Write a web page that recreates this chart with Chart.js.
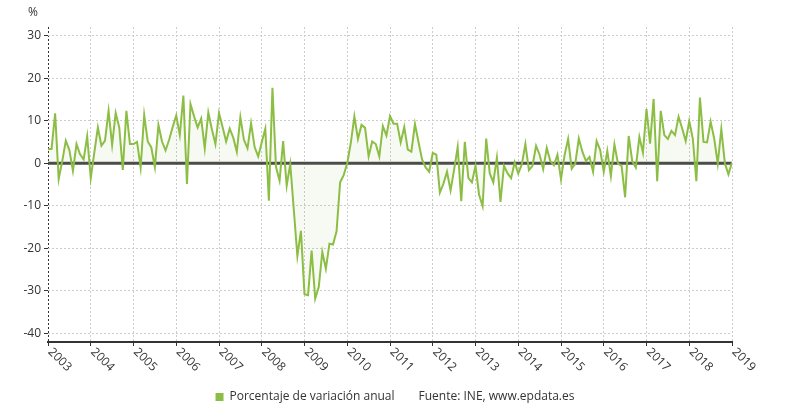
<!DOCTYPE html>
<html><head><meta charset="utf-8">
<script src="https://cdn.jsdelivr.net/npm/chart.js@4"></script>
<style>html,body{margin:0;padding:0;background:#fff}</style>
</head><body>
<canvas id="c" width="790" height="420"></canvas>
<script>
// ---- data ----
const years = ['2003','2004','2005','2006','2007','2008','2009','2010','2011','2012','2013','2014','2015','2016','2017','2018','2019'];
const yTickValues = [-40,-30,-20,-10,0,10,20,30];
const seriesLabel = 'Porcentaje de variación anual';
const sourceLabel = 'Fuente: INE, www.epdata.es';
const unitLabel = '%';
// monthly values, Jan 2003 .. Jan 2019
const values = [
  3.3, 3.4, 11.7, -3.7, 0.5, 5.3, 3.1, -1.8, 4.5, 2.1, 0.9, 6.3,
  -3.5, 2.5, 8.4, 4.1, 5.3, 12.3, 4.3, 11.8, 8.4, -1.6, 12.3, 4.5,
  4.5, 5.0, -1.0, 11.3, 5.1, 3.7, -0.9, 9.0, 5.1, 3.0, 5.5, 8.5,
  11.2, 6.6, 15.9, -4.9, 13.9, 11.0, 8.4, 10.5, 3.5, 11.9, 8.0, 4.5,
  11.8, 8.5, 5.1, 8.1, 6.0, 2.7, 10.8, 5.5, 3.5, 9.4, 3.8, 1.6,
  4.9, 8.1, -8.8, 17.7, -0.9, -4.1, 5.2, -5.3, -0.2, -11.0, -21.8, -15.9,
  -30.8, -31.0, -20.5, -31.8, -29.1, -20.9, -24.8, -18.9, -19.1, -16.0, -4.5, -2.8,
  0.0, 4.8, 11.0, 5.7, 9.0, 8.3, 1.6, 5.1, 4.5, 1.6, 8.7, 6.5,
  11.1, 9.3, 9.3, 4.9, 8.5, 3.2, 2.7, 9.2, 5.0, 0.9, -1.0, -2.0,
  2.4, 2.0, -6.9, -4.8, -2.0, -6.4, -1.5, 3.8, -8.9, 5.0, -3.5, -4.5,
  -0.6, -7.4, -10.1, 5.8, -2.4, -4.5, 1.3, -9.1, -0.6, -2.4, -3.5, 0.2,
  -2.4, -0.3, 4.5, -1.6, -0.6, 4.1, 2.0, -1.4, 3.6, 0.5, -0.5, 2.0,
  -3.8, 1.9, 5.7, -1.3, -0.1, 5.8, 2.7, 0.5, 1.5, -2.0, 5.2, 3.1,
  -2.0, 2.9, -3.0, 4.4, -0.1, -0.6, -8.0, 6.4, 0.5, -1.0, 6.2, 2.5,
  12.7, 4.6, 15.1, -4.2, 12.3, 6.6, 5.7, 7.6, 6.6, 10.9, 8.2, 5.2,
  9.9, 5.8, -4.2, 15.4, 5.0, 4.9, 9.8, 5.8, -0.1, 8.0, 0.0, -2.6,
  0.2
];

// ---- styles ----
const GREEN = '#8cbe45';
const TEXT = '#333333';
const FONT = '"Open Sans", "DejaVu Sans", sans-serif';

const points = values.map((v, i) => ({x: i, y: v}));

const extras = {
  id: 'extras',
  beforeDatasetsDraw(chart) {
    const {ctx, chartArea, scales} = chart;
    const y0 = scales.y.getPixelForValue(0);
    ctx.save();
    ctx.strokeStyle = '#4a4a4a';
    ctx.lineWidth = 3;
    ctx.beginPath();
    ctx.moveTo(chartArea.left, y0);
    ctx.lineTo(chartArea.right, y0);
    ctx.stroke();
    ctx.restore();
  },
  afterDraw(chart) {
    const {ctx, chartArea, scales} = chart;
    ctx.save();
    ctx.fillStyle = TEXT;
    ctx.font = '12px ' + FONT;
    ctx.textAlign = 'center';
    ctx.textBaseline = 'middle';
    ctx.fillText(unitLabel, 33, 13);
    years.forEach((yr, i) => {
      const x = scales.x.getPixelForValue(i * 12);
      ctx.save();
      ctx.translate(x + 2, chartArea.bottom + 8);
      ctx.rotate(Math.PI / 4);
      ctx.textAlign = 'left';
      ctx.textBaseline = 'middle';
      ctx.fillText(yr, 0, 0);
      ctx.restore();
    });
    ctx.restore();
  }
};

new Chart(document.getElementById('c'), {
  type: 'line',
  data: {
    datasets: [{
      label: seriesLabel,
      data: points,
      borderColor: GREEN,
      backgroundColor: 'rgba(140,190,69,0.07)',
      borderWidth: 2,
      pointRadius: 0,
      tension: 0,
      fill: 'origin'
    }, {
      label: sourceLabel,
      data: [],
      borderColor: 'rgba(0,0,0,0)',
      backgroundColor: 'rgba(0,0,0,0)'
    }]
  },
  options: {
    responsive: false,
    devicePixelRatio: 1,
    animation: false,
    layout: { padding: { left: 0, right: 0, top: 27, bottom: 7 } },
    plugins: {
      tooltip: { enabled: false },
      legend: {
        position: 'bottom',
        onClick: null,
        labels: {
          font: { family: FONT, size: 12 },
          color: TEXT,
          boxWidth: 8,
          boxHeight: 8,
          padding: 10,
          generateLabels(chart) {
            return chart.data.datasets.map((ds, i) => ({
              text: ds.label,
              fillStyle: i === 0 ? GREEN : 'rgba(0,0,0,0)',
              strokeStyle: 'rgba(0,0,0,0)',
              lineWidth: 0,
              fontColor: TEXT,
              datasetIndex: i,
              hidden: false
            }));
          }
        }
      }
    },
    scales: {
      x: {
        type: 'linear',
        min: 0,
        max: values.length - 1,
        afterBuildTicks(scale) {
          scale.ticks = years.map((y, i) => ({ value: i * 12 }));
        },
        afterFit(scale) { scale.height = 39; },
        ticks: { display: false },
        grid: {
          color: (c) => c.index === 0 ? '#333333' : '#cccccc',
          lineWidth: 1,
          drawTicks: true,
          tickLength: 4,
          tickColor: '#333333'
        },
        border: { display: true, color: '#333333', width: 2, dash: [2, 2] }
      },
      y: {
        min: -42,
        max: 32,
        afterBuildTicks(scale) {
          scale.ticks = yTickValues.map(v => ({ value: v }));
        },
        afterFit(scale) { scale.width = 48; },
        ticks: {
          font: { family: FONT, size: 12 },
          color: TEXT,
          padding: 3
        },
        grid: {
          color: '#cccccc',
          lineWidth: 1,
          drawTicks: true,
          tickLength: 4,
          tickColor: '#333333'
        },
        border: { display: false, dash: [2, 2] }
      },
      yRight: {
        position: 'right',
        min: -42,
        max: 32,
        afterFit(scale) { scale.width = 58; },
        ticks: { display: false },
        grid: { display: false, drawOnChartArea: false },
        border: { display: false }
      }
    }
  },
  plugins: [extras]
});
</script>
</body></html>
